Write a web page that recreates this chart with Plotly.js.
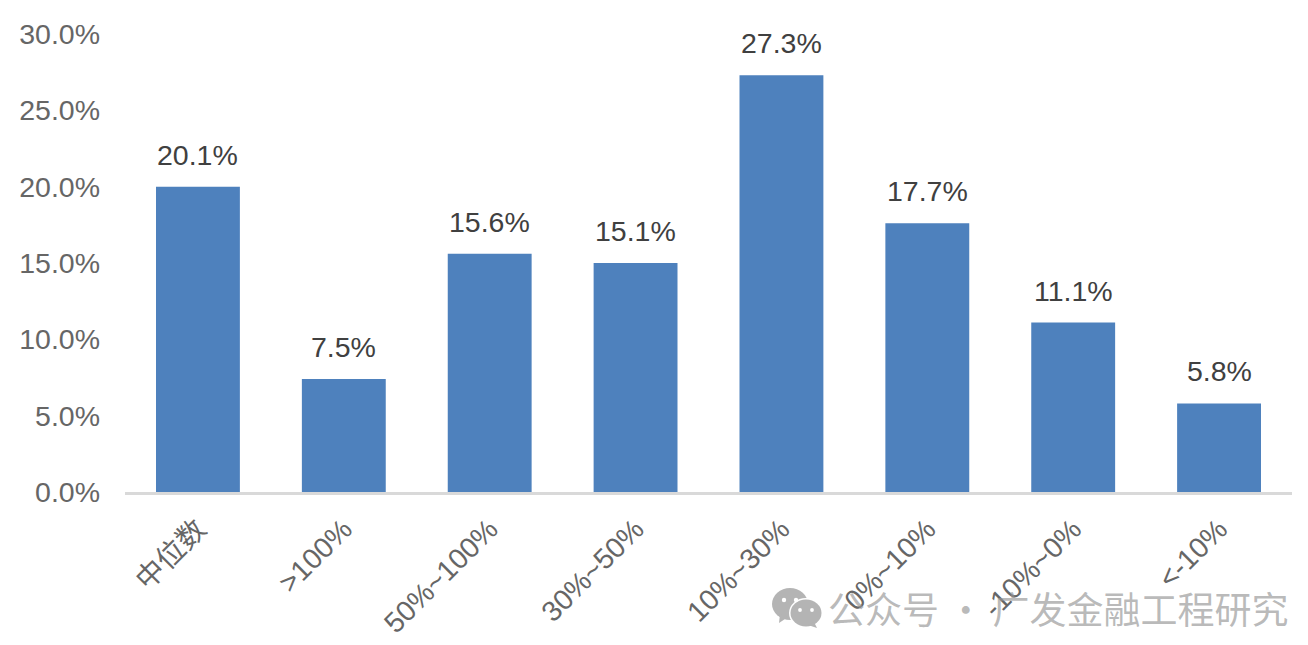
<!DOCTYPE html>
<html><head><meta charset="utf-8"><script src="https://cdn.plot.ly/plotly-3.0.0.min.js"></script>
<style>html,body{margin:0;padding:0;background:#fff}</style></head><body><div id="c" style="width:1308px;height:645px"></div>
<script>
const categories=['中位数','>100%','50%~100%','30%~50%','10%~30%','0%~10%','-10%~0%','<-10%'];
const values=[20.0,7.4,15.6,15.0,27.3,17.6,11.1,5.8];
const labels=['20.1%','7.5%','15.6%','15.1%','27.3%','17.7%','11.1%','5.8%'];
const yTicks=[0,5,10,15,20,25,30];
const yTickLabels=['0.0%','5.0%','10.0%','15.0%','20.0%','25.0%','30.0%'];
const watermark='公众号 · 广发金融工程研究';
const icon='data:image/svg+xml;utf8,'+encodeURIComponent('<svg xmlns="http://www.w3.org/2000/svg" viewBox="0 0 50 40"><g fill="#b4b4b4"><ellipse cx="18" cy="16" rx="18" ry="16"/><path d="M8 26l-1 9 9-6z"/></g><g fill="#fff"><ellipse cx="34" cy="25" rx="17" ry="15"/></g><g fill="#b4b4b4"><ellipse cx="34" cy="25" rx="15.5" ry="13.5"/><path d="M42 34l3 6-9-3z"/></g><g fill="#fff"><circle cx="12" cy="12" r="2.2"/><circle cx="24" cy="12" r="2.2"/><circle cx="28" cy="22" r="1.9"/><circle cx="40" cy="22" r="1.9"/></g></svg>');
const annotations=categories.map((c,i)=>({x:c,y:values[i],xref:'x',yref:'y',text:labels[i],showarrow:false,xanchor:'center',yanchor:'bottom',yshift:14,
font:{family:'Liberation Sans, Arial, sans-serif',size:28.5,color:'#404040'}}));
annotations.push({text:watermark,xref:'paper',yref:'paper',x:(1291-125)/1167,y:(492-608)/458,xanchor:'right',yanchor:'middle',showarrow:false,
font:{family:'Noto Sans CJK SC',size:37,color:'rgba(150,150,150,0.66)'}});
Plotly.newPlot('c',[{type:'bar',x:categories,y:values,cliponaxis:false,marker:{color:'#4e81bd'},width:0.575,hoverinfo:'skip'}],
{width:1308,height:645,margin:{l:125,r:16,t:34,b:153},paper_bgcolor:'#fff',plot_bgcolor:'#fff',showlegend:false,
xaxis:{type:'category',tickangle:-45,showgrid:false,zeroline:false,showline:true,linecolor:'#d9d9d9',linewidth:3,ticks:'',ticklabelstandoff:6,
tickfont:{family:'Liberation Sans, Noto Sans CJK SC, sans-serif',size:28.5,color:'#666666'},automargin:false},
yaxis:{range:[0,30],tickvals:yTicks,ticktext:yTickLabels,showgrid:false,zeroline:false,showline:false,ticks:'',ticklabelstandoff:24,
tickfont:{family:'Liberation Sans, Arial, sans-serif',size:28.5,color:'#666666'},automargin:false},
annotations:annotations,
images:[{source:icon,xref:'paper',yref:'paper',x:(772-125)/1167,y:(492-588)/458,sizex:50/1167,sizey:40/458,xanchor:'left',yanchor:'top',sizing:'stretch',layer:'above'}]},
{displayModeBar:false});
</script></body></html>
